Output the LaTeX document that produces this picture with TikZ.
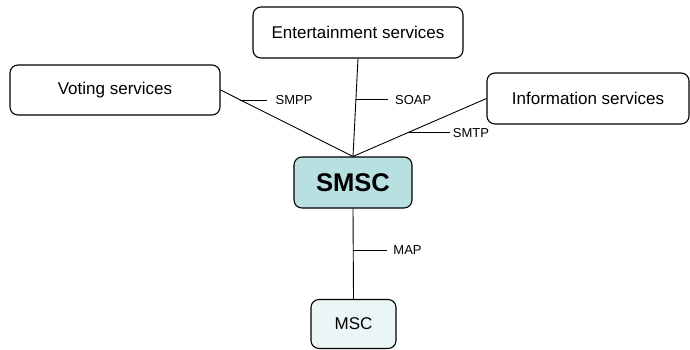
\documentclass[tikz,border=0pt]{standalone}
\usepackage{fontspec}
\setmainfont{Liberation Sans}
\usetikzlibrary{positioning}

\definecolor{smscfill}{HTML}{B9E0E1}
\definecolor{mscfill}{HTML}{EAF5F6}

\begin{document}
\begin{tikzpicture}[
    x = 1pt, y = -1pt,
    svc/.style = {draw, line width=1.1pt, rounded corners=8pt, minimum height=51pt, align=center,
                  font=\fontsize{17}{20}\selectfont},
    lbl/.style = {inner sep=0pt, anchor=west, font=\fontsize{13}{15}\selectfont},
    link/.style = {line width=0.9pt}
]
\useasboundingbox (0,0) rectangle (690,349);

\node (smsc) [svc, fill=smscfill, minimum width=118pt, font=\bfseries\fontsize{25.6}{28}\selectfont] at (353,182.5) {SMSC};
\node (msc) [svc, fill=mscfill, minimum width=85pt, minimum height=49pt] at (353.5,324) {MSC};
\node (vote) [svc, minimum width=210pt, minimum height=50pt] at (115,90) {Voting services};
\node (ent) [svc, minimum width=210pt] at (358,32.5) {Entertainment services};
\node (info) [svc, minimum width=202pt] at (588,98.5) {Information services};

\draw[link] (vote.east) to coordinate[pos=0.15] (smppT) (smsc.north);
\draw[link] (ent.south) to coordinate[pos=0.42] (soapT) (smsc.north);
\draw[link] (info.west) to coordinate[pos=0.59] (smtpT) (smsc.north);
\draw[link] (smsc.south) to coordinate[pos=0.46] (mapT) (msc.north);

% protocol labels
\node (smpp) [lbl, right=35pt of smppT] {SMPP};
\node (soap) [lbl, right=39pt of soapT] {SOAP};
\node (smtp) [lbl, right=45pt of smtpT] {SMTP};
\node (map) [lbl, right=40pt of mapT] {MAP};

\draw[link] (smppT) -- ++(27,0);
\draw[link] (soapT) -- ++(32,0);
\draw[link] (smtpT) -- ++(42,0);
\draw[link] (mapT) -- ++(34,0);
\end{tikzpicture}
\end{document}
